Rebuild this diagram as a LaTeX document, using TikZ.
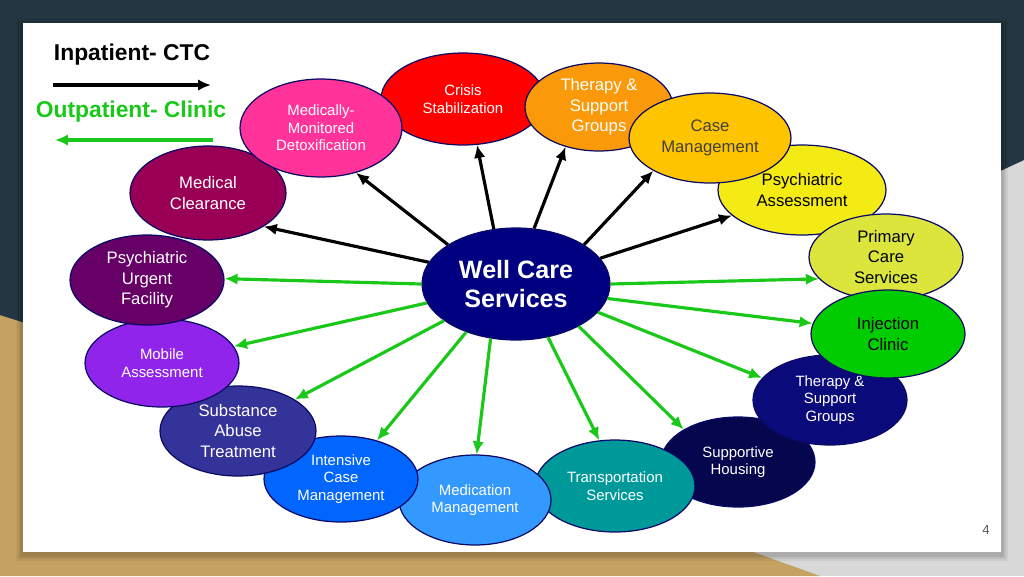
\documentclass[tikz,border=0pt]{standalone}
\usepackage{fontspec}
\setmainfont{Liberation Sans}
\usetikzlibrary{arrows.meta,shapes.geometric}
\definecolor{bgDark}{HTML}{243641}
\definecolor{bgTan}{HTML}{C4A262}
\definecolor{bgGrey}{HTML}{D8D8D8}
\definecolor{bubEdge}{HTML}{0A0A66}
\definecolor{outGreen}{HTML}{19C819}
\definecolor{cRed}{HTML}{FF0000}
\definecolor{cOrange}{HTML}{FA9A0A}
\definecolor{cGold}{HTML}{FFC400}
\definecolor{cYellow}{HTML}{F4EA14}
\definecolor{cLime}{HTML}{DCE53C}
\definecolor{cGreen}{HTML}{00CC00}
\definecolor{cNavy}{HTML}{0A0A7A}
\definecolor{cDeepNavy}{HTML}{06064F}
\definecolor{cTeal}{HTML}{009999}
\definecolor{cSky}{HTML}{3399FF}
\definecolor{cBlue}{HTML}{0066FF}
\definecolor{cIndigo}{HTML}{333399}
\definecolor{cViolet}{HTML}{9124EA}
\definecolor{cPlum}{HTML}{660066}
\definecolor{cWine}{HTML}{990055}
\definecolor{cPink}{HTML}{FF3399}
\definecolor{cCore}{HTML}{000080}
\tikzset{
  >={Latex[length=2.6mm,width=2.3mm]},
  bub/.style={ellipse, draw=bubEdge, line width=0.7pt, inner sep=0pt, align=center,
    minimum width=3.08cm, minimum height=1.8cm, text=white},
  bigtext/.style={font=\fontsize{9.5}{11.7}\selectfont},
  smalltext/.style={font=\fontsize{8.5}{10}\selectfont},
  coretext/.style={font=\fontsize{14.3}{17}\selectfont\bfseries},
  legend/.style={font=\fontsize{13}{15}\selectfont\bfseries},
  pnum/.style={font=\fontsize{7.5}{9}\selectfont, text=black!65},
  inflow/.style={->, line width=1.8pt, draw=black},
  outflow/.style={->, line width=1.8pt, draw=outGreen},
}
\begin{document}
\begin{tikzpicture}[x=0.02cm,y=-0.02cm]
  \useasboundingbox (0,0) rectangle (1024,576);

  % slide backdrop
  \fill[bgGrey] (0,0) rectangle (1024,576);
  \fill[bgTan] (0,281) -- (820,576) -- (0,576) -- cycle;
  \fill[bgDark] (0,0) -- (1024,0) -- (1024,160) -- (410,445) -- (0,315) -- cycle;
  \foreach \s/\o in {7/0.05,5/0.07,3/0.09}{\fill[black,opacity=\o] (23-\s,23-\s+3) rectangle (1001+\s,552+\s+2);}
  \fill[white] (23,23) rectangle (1001,552);

  % legend
  \node[legend] (inlab) at (132,55) {Inpatient- CTC};
  \node[legend, text=outGreen] (outlab) at (131,112) {Outpatient- Clinic};
  \coordinate (inA) at (53,85);
  \coordinate (inB) at (211,85);
  \coordinate (outA) at (213,140);
  \coordinate (outB) at (55,140);
  \draw[inflow] (inA) -- (inB);
  \draw[outflow] (outA) -- (outB);

  % services
  \node[bub, smalltext, fill=cRed, minimum width=3.28cm, minimum height=1.84cm] (cs) at (463,99) {Crisis\\Stabilization};
  \node[bub, bigtext, fill=cOrange, minimum width=2.96cm, minimum height=1.76cm] (tgo) at (599,107) {Therapy \&\\Support\\Groups};
  \node[bub, bigtext, fill=cYellow, text=black, minimum width=3.36cm] (pa) at (802,190) {Psychiatric\\Assessment};
  \node[bub, bigtext, fill=cGold, text=black!75, minimum width=3.24cm] (cm) at (710,138) {Case\\Management};
  \node[bub, bigtext, fill=cLime, text=black, minimum height=1.72cm] (pc) at (886,257) {Primary\\Care\\Services};
  \node[bub, smalltext, fill=cDeepNavy] (sh) at (738,462) {Supportive\\Housing};
  \node[bub, smalltext, fill=cNavy] (tgn) at (830,400) {Therapy \&\\Support\\Groups};
  \node[bub, bigtext, fill=cGreen, text=black, minimum height=1.76cm] (ij) at (888,334) {Injection\\Clinic};
  \node[bub, smalltext, fill=cTeal, minimum width=3.2cm, minimum height=1.84cm] (ts) at (615,486) {Transportation\\Services};
  \node[bub, smalltext, fill=cSky, minimum width=3.04cm] (mm) at (475,500) {Medication\\Management};
  \node[bub, smalltext, fill=cBlue, minimum height=1.72cm] (icm) at (341,479) {Intensive\\Case\\Management};
  \node[bub, bigtext, fill=cIndigo, minimum width=3.12cm] (sat) at (238,431) {Substance\\Abuse\\Treatment};
  \node[bub, smalltext, fill=cViolet, minimum height=1.76cm] (ma) at (162,363) {Mobile\\Assessment};
  \node[bub, bigtext, fill=cPlum] (puf) at (147,280) {Psychiatric\\Urgent\\Facility};
  \node[bub, bigtext, fill=cWine, minimum width=3.12cm, minimum height=1.88cm] (mcl) at (208,193) {Medical\\Clearance};
  \node[bub, smalltext, fill=cPink, minimum width=3.24cm, minimum height=1.96cm] (mmd) at (321,128) {Medically-\\Monitored\\Detoxification};

  \node[bub, coretext, fill=cCore, minimum width=3.76cm, minimum height=2.24cm] (wc) at (516,284) {Well Care\\Services};

  % inpatient links
  \foreach \a/\t/\b in {166/mcl/329, 150/mmd/308, 112/cs/287, 72/tgo/230, 30/cm/210, 17/pa/200}{\draw[inflow] (wc.\a) -- (\t.\b);}

  % outpatient links
  \foreach \a/\t/\b in {0/pc/198, 351/ij/172, 341/tgn/162, 326/sh/149, 301/ts/109, 245/mm/88, 224/icm/47, 207/sat/29, 192/ma/13, 180/puf/1}{\draw[outflow] (wc.\a) -- (\t.\b);}

  \node[pnum] (pg) at (986,530) {4};
\end{tikzpicture}
\end{document}
